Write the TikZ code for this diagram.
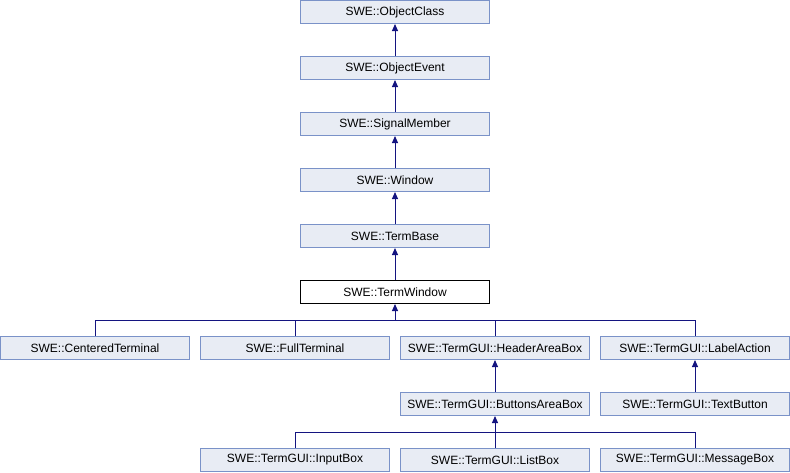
\documentclass[tikz,border=0pt]{standalone}
\usepackage{fontspec}
\setmainfont{Liberation Sans}
\usetikzlibrary{arrows.meta}

\definecolor{boxfill}{RGB}{232,236,244}
\definecolor{boxline}{RGB}{122,146,200}
\definecolor{linkcol}{RGB}{20,20,128}

\tikzset{
  cls/.style={draw=boxline, fill=boxfill, line width=1pt, minimum width=189pt,
    minimum height=23pt, inner sep=0pt, font=\fontsize{12}{14}\selectfont},
  curcls/.style={cls, draw=black, fill=white},
  link/.style={draw=linkcol, line width=1pt},
  inh/.style={link, -{Triangle[width=6pt,length=7pt]}}
}

\begin{document}
\begin{tikzpicture}[x=1pt,y=-1pt]

   \useasboundingbox (0,0) rectangle (790,472);

   \node[cls] (objclass) at (395,12) {SWE::ObjectClass};
   \node[cls] (objevent) at (395,68) {SWE::ObjectEvent};
   \node[cls] (sigmember) at (395,124) {SWE::SignalMember};
   \node[cls] (window) at (395,180) {SWE::Window};
   \node[cls] (termbase) at (395,236) {SWE::TermBase};
   \node[curcls] (termwin) at (395,292) {SWE::TermWindow};

   \node[cls] (centered) at (95,348) {SWE::CenteredTerminal};
   \node[cls] (full) at (295,348) {SWE::FullTerminal};
   \node[cls] (header) at (495,348) {SWE::TermGUI::HeaderAreaBox};
   \node[cls] (labelact) at (695,348) {SWE::TermGUI::LabelAction};

   \node[cls] (buttons) at (495,404) {SWE::TermGUI::ButtonsAreaBox};
   \node[cls] (textbtn) at (695,404) {SWE::TermGUI::TextButton};

   \node[cls] (inputbox) at (295,460) {SWE::TermGUI::InputBox};
   \node[cls] (listbox) at (495,460) {SWE::TermGUI::ListBox};
   \node[cls] (msgbox) at (695,460) {SWE::TermGUI::MessageBox};

   % single chain
   \draw[inh] (objevent) -- (objclass);
   \draw[inh] (sigmember) -- (objevent);
   \draw[inh] (window) -- (sigmember);
   \draw[inh] (termbase) -- (window);
   \draw[inh] (termwin) -- (termbase);

   % children of TermWindow
   \coordinate (busA) at (395,320);
   \draw[link] (centered.north) |- (labelact.north |- busA) -- (labelact.north);
   \draw[link] (full.north) -- (full.north |- busA);
   \draw[link] (header.north) -- (header.north |- busA);
   \draw[inh] (busA) -- (termwin.south);

   \draw[inh] (buttons) -- (header);
   \draw[inh] (textbtn) -- (labelact);

   % children of ButtonsAreaBox
   \coordinate (busB) at (495,432);
   \draw[link] (inputbox.north) |- (msgbox.north |- busB) -- (msgbox.north);
   \draw[link] (listbox.north) -- (busB);
   \draw[inh] (busB) -- (buttons.south);

 \end{tikzpicture}
\end{document}
